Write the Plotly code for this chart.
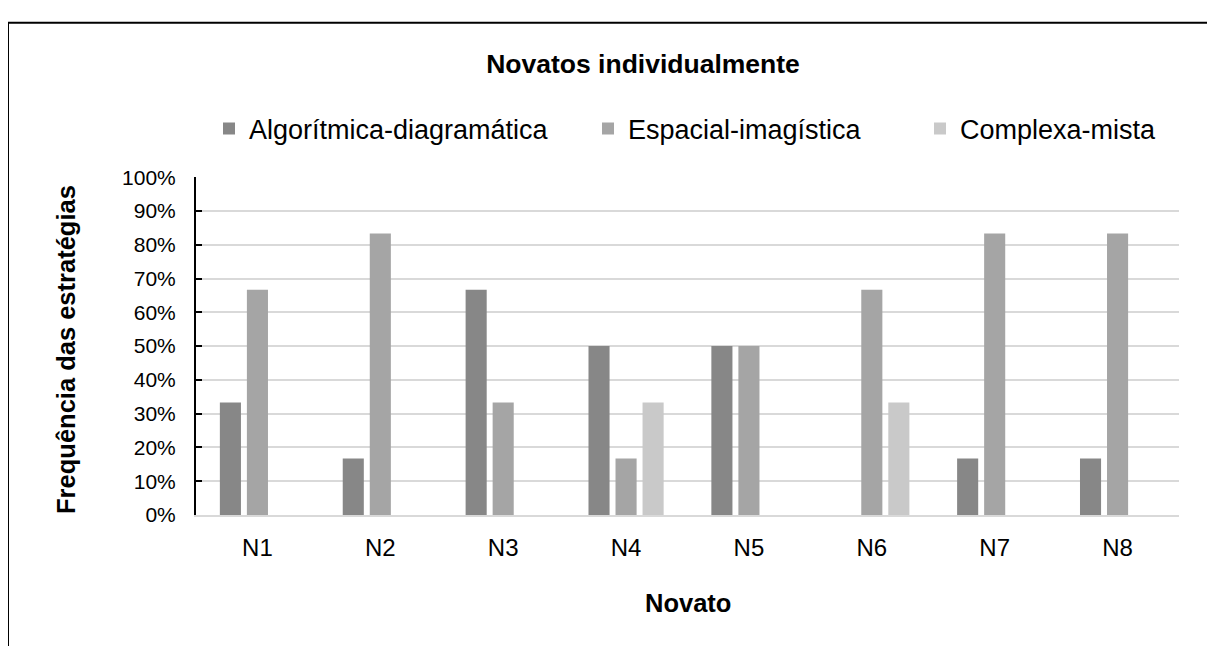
import plotly.graph_objects as go

categories = ["N1", "N2", "N3", "N4", "N5", "N6", "N7", "N8"]
algoritmica = [0.333, 0.167, 0.667, 0.50, 0.50, 0.0, 0.167, 0.167]
espacial = [0.667, 0.833, 0.333, 0.167, 0.50, 0.667, 0.833, 0.833]
complexa = [0.0, 0.0, 0.0, 0.333, 0.0, 0.333, 0.0, 0.0]
series_names = ["Algorítmica-diagramática", "Espacial-imagística", "Complexa-mista"]
colors = ["#878787", "#a5a5a5", "#c9c9c9"]

W, H = 1215, 646
L, R, T, B = 188, 44, 159, 139
FONT = "Liberation Sans, Arial, sans-serif"

fig = go.Figure()
for i, (name, vals) in enumerate(zip(series_names, [algoritmica, espacial, complexa])):
    fig.add_trace(go.Bar(
        x=categories, y=vals, name=name,
        marker=dict(color=colors[i], line=dict(width=0)),
        legend="legend" if i == 0 else f"legend{i+1}",
        showlegend=True,
    ))

plot_w = W - L - R
plot_h = H - T - B

def px_x(px):
    return (px - L) / plot_w

def px_y(py):
    return (H - B - py) / plot_h

legend_common = dict(
    orientation="h", xref="container", yref="container",
    xanchor="left", yanchor="middle",
    font=dict(family=FONT, size=27, color="#000000"),
    bgcolor="rgba(0,0,0,0)", borderwidth=0,
)

fig.update_layout(
    width=W, height=H,
    margin=dict(l=L, r=R, t=T, b=B),
    paper_bgcolor="white", plot_bgcolor="white",
    barmode="group", bargap=0.34, bargroupgap=0.22,
    showlegend=True,
    font=dict(family=FONT, color="#000000"),
    title=dict(text="<b>Novatos individualmente</b>", x=635 / W, xref="container",
               xanchor="center", y=1 - 56 / H, yref="container", yanchor="middle",
               font=dict(family=FONT, size=26.5, color="#000000")),
    legend=dict(x=201 / W, y=1 - 121 / H, **legend_common),
    legend2=dict(x=580 / W, y=1 - 121 / H, **legend_common),
    legend3=dict(x=912 / W, y=1 - 121 / H, **legend_common),
    xaxis=dict(
        showgrid=False, showline=True, linecolor="#d9d9d9", linewidth=2,
        ticks="", tickfont=dict(family=FONT, size=24, color="#000000"),
        ticklabelstandoff=10,
    ),
    yaxis=dict(
        range=[0, 1], dtick=0.1, tickformat=".0%",
        showgrid=True, gridcolor="#d9d9d9", gridwidth=2,
        showline=True, linecolor="#000000", linewidth=2,
        ticks="inside", ticklen=6, tickwidth=2, tickcolor="#000000",
        tickfont=dict(family=FONT, size=21, color="#000000"),
        ticklabelstandoff=14, zeroline=False,
    ),
    annotations=[
        dict(text="<b>Frequência das estratégias</b>", xref="paper", yref="paper",
             x=px_x(58), y=px_y(337), textangle=-90, showarrow=False,
             xanchor="center", yanchor="middle",
             font=dict(family=FONT, size=25.5, color="#000000")),
        dict(text="<b>Novato</b>", xref="paper", yref="paper",
             x=0.5, y=px_y(598), showarrow=False,
             xanchor="center", yanchor="middle",
             font=dict(family=FONT, size=25.5, color="#000000")),
    ],
    shapes=[
        dict(type="rect", xref="paper", yref="paper",
             x0=px_x(0), x1=px_x(1500), y0=px_y(900), y1=px_y(0),
             line=dict(color="#000000", width=2), fillcolor="rgba(0,0,0,0)", layer="below"),
    ],
)

fig.write_html("out.html")
